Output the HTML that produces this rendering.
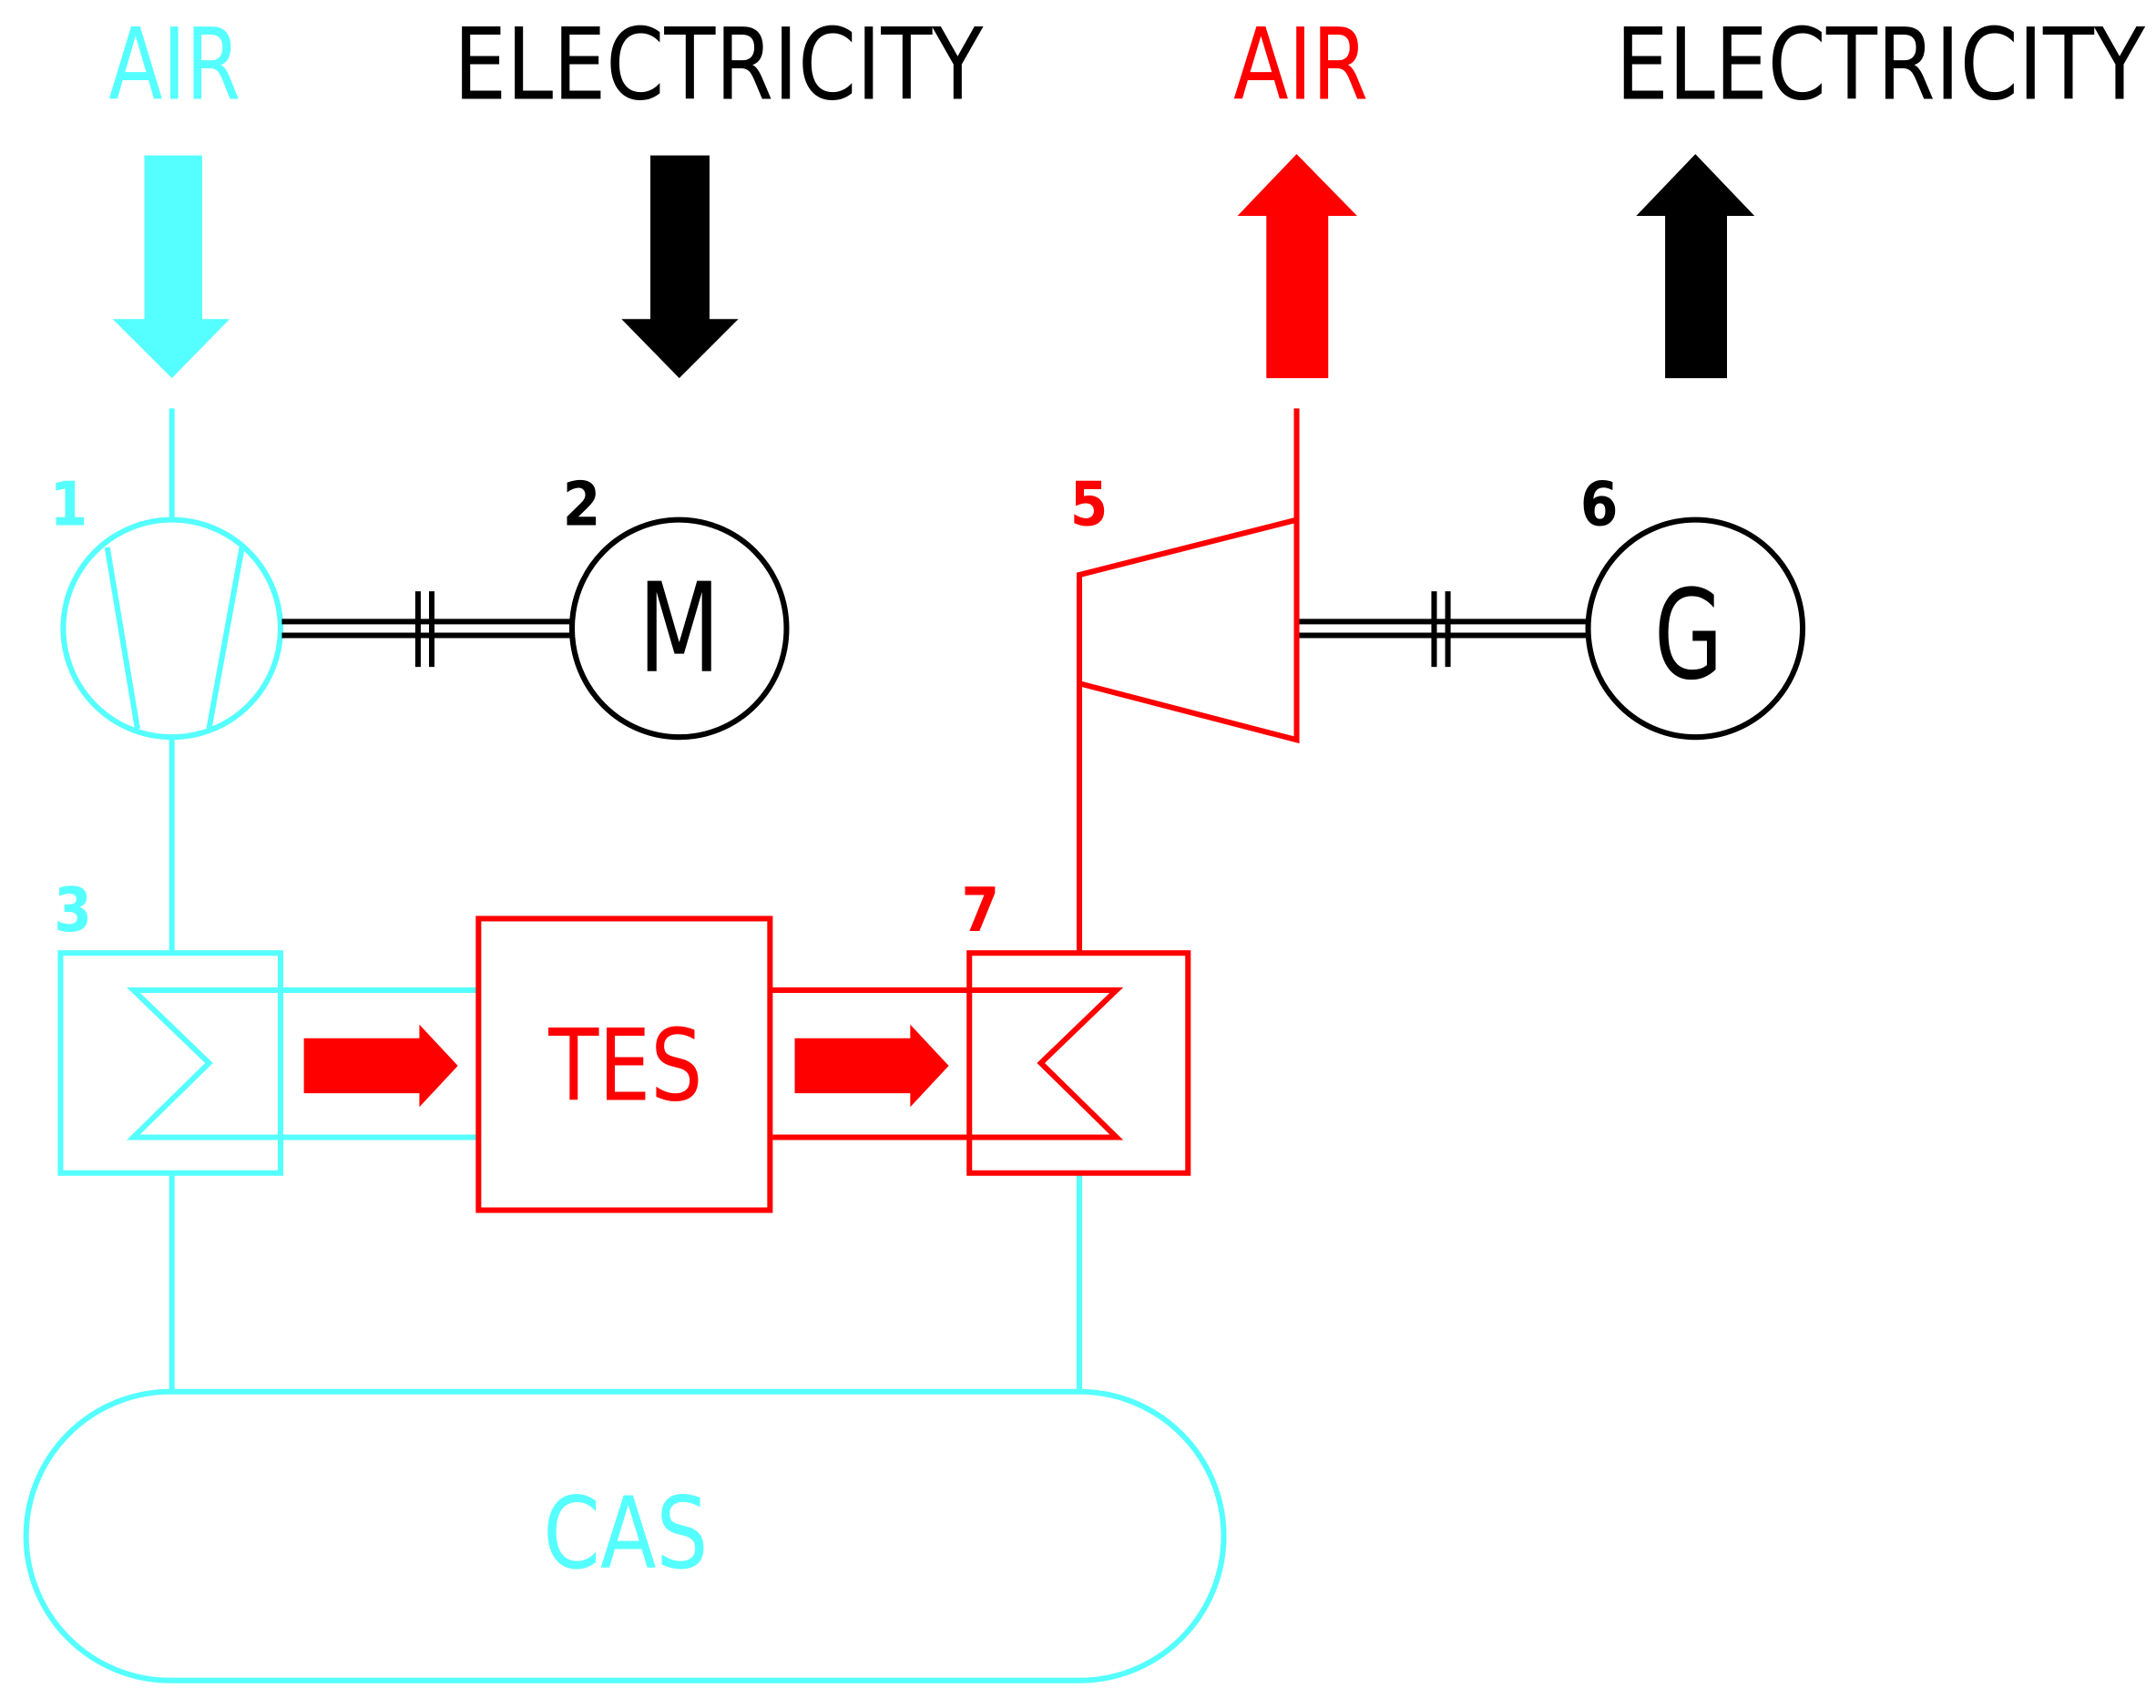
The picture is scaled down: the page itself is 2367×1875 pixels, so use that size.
<!DOCTYPE html>
<html><head><style>html,body{margin:0;padding:0;background:#fff}svg{display:block}</style></head>
<body>
<svg width="2367" height="1875" viewBox="0 0 1568 1242" preserveAspectRatio="none" xmlns="http://www.w3.org/2000/svg">
<g font-family="'DejaVu Sans Condensed','Liberation Sans',sans-serif">
<text x="127" y="72" font-size="72" fill="#55FFFF" text-anchor="middle" textLength="96" lengthAdjust="spacingAndGlyphs">AIR</text>
<text x="330" y="72" font-size="72" fill="#000" textLength="385" lengthAdjust="spacingAndGlyphs">ELECTRICITY</text>
<text x="946" y="72" font-size="72" fill="#f00" text-anchor="middle" textLength="98" lengthAdjust="spacingAndGlyphs">AIR</text>
<text x="1175" y="72" font-size="72" fill="#000" textLength="385" lengthAdjust="spacingAndGlyphs">ELECTRICITY</text>
</g>
<polygon points="105,113 147,113 147,232 167,232 125,275 82,232 105,232" fill="#55FFFF"/>
<polygon points="473,113 516,113 516,232 537,232 494,275 452,232 473,232" fill="#000"/>
<polygon points="921,275 966,275 966,157 987,157 943,112 900,157 921,157" fill="#f00"/>
<polygon points="1211,275 1256,275 1256,157 1276,157 1233,112 1190,157 1211,157" fill="#000"/>
<g fill="none" stroke-width="4">
<g stroke="#55FFFF">
<line x1="125" y1="297" x2="125" y2="378"/>
<ellipse cx="125" cy="457" rx="79" ry="79"/>
<line x1="78" y1="398" x2="100" y2="530"/>
<line x1="176" y1="398" x2="152" y2="530"/>
<line x1="125" y1="537" x2="125" y2="693"/>
<rect x="44" y="693" width="160" height="160"/>
<polyline points="348,720 97,720 152,773 97,827 350,827"/>
<line x1="125" y1="853" x2="125" y2="1012"/>
<line x1="785" y1="853" x2="785" y2="1012"/>
<rect x="19" y="1012" width="871" height="210" rx="105" ry="105"/>
</g>
<g stroke="#000">
<line x1="205" y1="452" x2="415" y2="452"/>
<line x1="205" y1="462" x2="415" y2="462"/>
<line x1="304" y1="430" x2="304" y2="485"/>
<line x1="314" y1="430" x2="314" y2="485"/>
<ellipse cx="494" cy="457" rx="78" ry="79"/>
<line x1="943" y1="452" x2="1155" y2="452"/>
<line x1="943" y1="462" x2="1155" y2="462"/>
<line x1="1043" y1="430" x2="1043" y2="485"/>
<line x1="1053" y1="430" x2="1053" y2="485"/>
<ellipse cx="1233" cy="457" rx="78" ry="79"/>
</g>
<g stroke="#f00">
<rect x="348" y="668" width="212" height="212"/>
<polyline points="560,720 812,720 757,773 812,827 562,827"/>
<rect x="705" y="693" width="159" height="160"/>
<line x1="785" y1="693" x2="785" y2="497"/>
<polygon points="785,418 943,378 943,538 785,497"/>
<line x1="943" y1="378" x2="943" y2="297"/>
</g>
</g>
<polygon points="221,755 305,755 305,745 333,775 305,805 305,795 221,795" fill="#f00"/>
<polygon points="578,755 662,755 662,745 690,775 662,805 662,795 578,795" fill="#f00"/>
<g font-family="'DejaVu Sans Condensed','Liberation Sans',sans-serif">
<text x="494" y="488" font-size="90" fill="#000" text-anchor="middle" textLength="60" lengthAdjust="spacingAndGlyphs">M</text>
<text x="1228" y="493" font-size="90" fill="#000" text-anchor="middle" textLength="50" lengthAdjust="spacingAndGlyphs">G</text>
<text x="455" y="800" font-size="72" fill="#f00" text-anchor="middle" textLength="112" lengthAdjust="spacingAndGlyphs">TES</text>
<text x="455" y="1140" font-size="72" fill="#55FFFF" text-anchor="middle" textLength="120" lengthAdjust="spacingAndGlyphs">CAS</text>
<g font-size="44" font-weight="bold">
<text x="50" y="382" fill="#55FFFF" text-anchor="middle">1</text>
<text x="423" y="382" fill="#000" text-anchor="middle">2</text>
<text x="792" y="382" fill="#f00" text-anchor="middle">5</text>
<text x="1163" y="382" fill="#000" text-anchor="middle">6</text>
<text x="53" y="677" fill="#55FFFF" text-anchor="middle">3</text>
<text x="713" y="677" fill="#f00" text-anchor="middle">7</text>
</g>
</g>
</svg>
</body></html>
